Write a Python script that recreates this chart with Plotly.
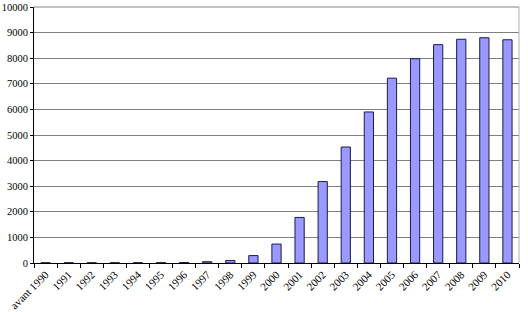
import plotly.graph_objects as go

categories = ["avant 1990", "1991", "1992", "1993", "1994", "1995", "1996", "1997",
              "1998", "1999", "2000", "2001", "2002", "2003", "2004", "2005",
              "2006", "2007", "2008", "2009", "2010"]
values = [10, 10, 10, 10, 12, 15, 20, 50, 100, 290, 740, 1780, 3180, 4530,
          5900, 7220, 7980, 8530, 8740, 8800, 8720]
y_ticks = list(range(0, 10001, 1000))

fig = go.Figure(go.Bar(
    x=categories, y=values,
    marker=dict(color="#9999FF", line=dict(color="#1a1a4d", width=1)),
))
fig.update_layout(
    width=528, height=312,
    margin=dict(l=34, r=9, t=7, b=49),
    paper_bgcolor="white", plot_bgcolor="white",
    bargap=0.6, showlegend=False,
    font=dict(family="Liberation Serif", size=11, color="black"),
)
fig.update_xaxes(
    type="category", range=[-0.5, 20.5], tickson="boundaries",
    ticks="outside", ticklen=4, tickcolor="black", tickangle=-45,
    showline=True, linecolor="black", linewidth=1, mirror=False,
    showgrid=False, automargin=False,
)
fig.update_yaxes(
    range=[0, 10000], tickvals=y_ticks, tickformat="d", ticks="outside", ticklen=3,
    tickcolor="black", showline=True, linecolor="black", linewidth=1,
    showgrid=True, gridcolor="#808080", gridwidth=1, zeroline=False,
    automargin=False, tickfont=dict(size=10.5),
)
fig.add_shape(type="line", xref="paper", yref="paper", x0=1, x1=1, y0=0, y1=1,
              line=dict(color="#b0b0b0", width=1))
fig.add_shape(type="line", xref="paper", yref="paper", x0=0, x1=1, y0=1, y1=1,
              line=dict(color="#808080", width=1))
fig.write_html("out.html")
